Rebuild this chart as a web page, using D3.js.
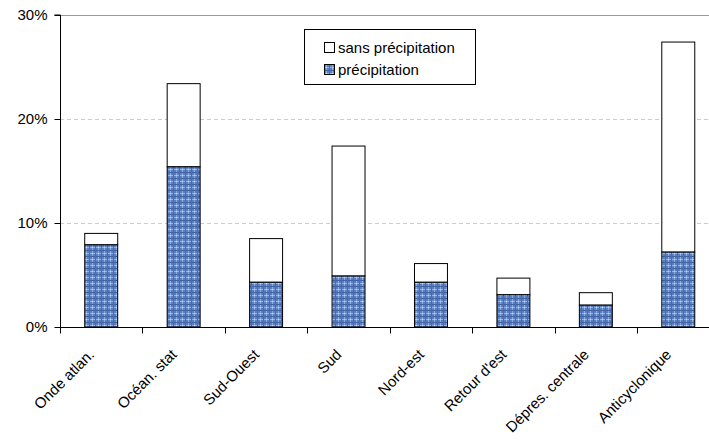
<!DOCTYPE html>
<html><head><meta charset="utf-8">
<script src="https://cdn.jsdelivr.net/npm/d3@7"></script>
<style>body{margin:0;background:#fff}svg{display:block;font-family:"Liberation Sans",Arial,sans-serif}</style>
</head><body><svg id="c" width="709" height="441"></svg>
<script>
const categories = ["Onde atlan.","Océan. stat","Sud-Ouest","Sud","Nord-est","Retour d'est","Dépres. centrale","Anticyclonique"];
const precipitation = [7.9, 15.4, 4.3, 4.9, 4.3, 3.1, 2.1, 7.2];
const total = [9.0, 23.4, 8.5, 17.4, 6.1, 4.7, 3.3, 27.4];
const yTicks = [0,10,20,30];
const seriesNames = ["sans précipitation","précipitation"];

(function(){
const svg = d3.select("#c");
const FS = 15;
const mLeft = 60, mTop = 15, mBottom = 327, mRight = 719.5;
const x = d3.scaleBand().domain(categories).range([mLeft,mRight]).paddingInner(0).paddingOuter(0);
const y = d3.scaleLinear().domain([0,30]).range([mBottom,mTop]);

const defs = svg.append("defs");
const pat = defs.append("pattern").attr("id","tex").attr("patternUnits","userSpaceOnUse").attr("width",6).attr("height",6);
pat.append("rect").attr("width",6).attr("height",6).attr("fill","#5a7ebf");
pat.append("rect").attr("x",0).attr("y",1).attr("width",6).attr("height",1).attr("fill","#94b3e4");
pat.append("rect").attr("x",2).attr("y",0).attr("width",1).attr("height",6).attr("fill","#8badde");
pat.append("rect").attr("x",0).attr("y",4).attr("width",6).attr("height",1).attr("fill","#4163a3");
pat.append("rect").attr("x",5).attr("y",0).attr("width",1).attr("height",6).attr("fill","#4a6ba6");
pat.append("rect").attr("x",2).attr("y",1).attr("width",1).attr("height",1).attr("fill","#bcd1f2");

svg.append("g").selectAll("line").data(yTicks.filter(d=>d>0)).join("line")
  .attr("x1",mLeft).attr("x2",709).attr("y1",d=>Math.round(y(d))+0.5).attr("y2",d=>Math.round(y(d))+0.5)
  .attr("stroke",d=>d===30?"#999":"#ccc").attr("stroke-dasharray",d=>d===30?null:"4,3");

const bw = x.bandwidth()*0.4;
const g = svg.append("g");
categories.forEach((c,i)=>{
  const bx = x(c)+(x.bandwidth()-bw)/2;
  g.append("rect").attr("x",bx).attr("width",bw).attr("y",y(total[i])).attr("height",y(precipitation[i])-y(total[i]))
    .attr("fill","#fff").attr("stroke","#000").attr("stroke-width",1);
  g.append("rect").attr("x",bx).attr("width",bw).attr("y",y(precipitation[i])).attr("height",y(0)-y(precipitation[i]))
    .attr("fill","url(#tex)").attr("stroke","#000").attr("stroke-width",1);
});

const ya = svg.append("g").attr("transform",`translate(${mLeft+0.5},0)`)
  .call(d3.axisLeft(y).tickValues(yTicks).tickFormat(d=>d+"%").tickSize(6).tickPadding(7));
ya.select(".domain").attr("stroke","#000").attr("d",`M-6,${y(30)}H0V${y(0)}`);
ya.selectAll("text").attr("font-size",FS).attr("fill","#000").attr("font-family","Liberation Sans, Arial, sans-serif");

const xa = svg.append("g").attr("transform",`translate(0,${mBottom+0.5})`);
xa.append("line").attr("x1",mLeft).attr("x2",mRight).attr("stroke","#000");
xa.selectAll(".tk").data(categories.map(c=>x(c)).concat([mRight])).join("line").attr("class","tk")
  .attr("x1",d=>Math.round(d)+0.5).attr("x2",d=>Math.round(d)+0.5).attr("y1",0).attr("y2",6).attr("stroke","#000");
xa.selectAll(".lb").data(categories).join("text").attr("class","lb")
  .attr("transform",d=>`translate(${x(d)+x.bandwidth()/2-6},28) rotate(-45)`)
  .attr("text-anchor","end").attr("font-size",FS).attr("fill","#000").text(d=>d);

const lg = svg.append("g");
lg.append("rect").attr("x",304.5).attr("y",29.5).attr("width",171).attr("height",55).attr("fill","#fff").attr("stroke","#000");
lg.append("rect").attr("x",324.5).attr("y",42.5).attr("width",10).attr("height",10).attr("fill","#fff").attr("stroke","#000");
lg.append("rect").attr("x",324.5).attr("y",64.5).attr("width",10).attr("height",10).attr("fill","url(#tex)").attr("stroke","#000");
lg.append("text").attr("x",338).attr("y",52.5).attr("font-size",FS).text(seriesNames[0]);
lg.append("text").attr("x",338).attr("y",74.5).attr("font-size",FS).text(seriesNames[1]);
})();
</script></body></html>
